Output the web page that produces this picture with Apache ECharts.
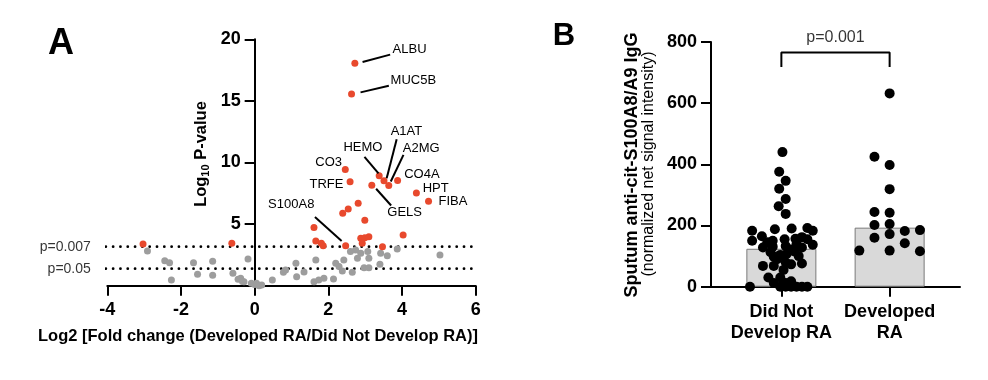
<!DOCTYPE html>
<html><head><meta charset="utf-8">
<script src="https://cdn.jsdelivr.net/npm/echarts@6/dist/echarts.min.js"></script>
<style>html,body{margin:0;padding:0;background:#fff}#c{width:988px;height:380px}</style>
</head><body><div id="c"></div>
<script>
const FONT = '"Liberation Sans", Arial, Helvetica, sans-serif';

// ---------- Panel A data (volcano) ----------
const nsPoints = [
  [-2.91, 2.82], [-2.44, 2.03], [-2.31, 1.87], [-2.26, 0.46], [-1.66, 1.87], [-1.55, 0.93],
  [-1.14, 1.98], [-1.14, 0.85], [-0.59, 1.01], [-0.45, 0.52], [-0.38, 0.6], [-0.33, 0.35],
  [-0.29, 0.33], [-0.18, 2.17], [-0.09, 0.2], [0.0, 0.1], [0.05, 0.2], [0.12, 0.0], [0.19, 0.05],
  [0.48, 0.46], [0.78, 1.09], [0.84, 1.28], [1.12, 1.82], [1.14, 0.73], [1.34, 1.12], [1.66, 2.09],
  [1.61, 0.33], [1.74, 0.46], [1.88, 0.6], [2.14, 0.55], [2.2, 1.82], [2.29, 1.55], [2.38, 1.2],
  [2.42, 2.09], [2.65, 1.09], [2.6, 2.77], [2.74, 2.9], [2.88, 2.63], [3.07, 2.77], [3.1, 2.23],
  [2.79, 2.23], [2.97, 1.46], [3.1, 1.46], [3.42, 2.63], [3.6, 2.44], [3.4, 1.74], [3.87, 2.98],
  [5.03, 2.49]
];
const sigPoints = [
  [2.72, 18.05], [2.63, 15.56], [2.46, 9.43], [2.59, 8.43], [3.38, 8.92], [3.51, 8.51],
  [3.64, 8.13], [3.88, 8.54], [3.18, 8.16], [4.39, 7.53], [4.72, 6.86], [2.47, 3.25],
  [2.81, 6.69], [2.54, 6.23], [2.39, 5.88], [2.99, 5.31], [1.61, 4.72], [1.66, 3.63],
  [1.81, 3.45], [1.86, 3.25], [2.88, 3.85], [2.99, 3.9], [3.10, 3.98], [2.92, 3.45],
  [3.47, 3.17], [4.03, 4.12], [-0.62, 3.45], [-3.03, 3.39]
];
const sigNames = ['ALBU', 'MUC5B', 'CO3', 'TRFE', 'HEMO', 'A1AT', 'A2MG', 'CO4A', 'GELS', 'HPT', 'FIBA', 'S100A8'];
const thresholds = [3.17, 1.38];
const thresholdLabels = ['p=0.007', 'p=0.05'];
const thresholdSpan = [-4.04, 5.9];

// ---------- Panel B data ----------
const groups = ['Did Not\nDevelop RA', 'Developed\nRA'];
const barMedians = [124, 193];
const g1Values = [440, 376, 346, 320, 287, 263, 238, 183, 188, 190, 192, 183, 150, 165, 150, 155, 157, 162, 155, 137,
  128, 131, 133, 122, 128, 113, 104, 108, 98, 115, 68, 68, 80, 73, 76, 30, 30, 12, 12, 18,
  0, 0, 0, 0, 0, 0, 0, 145, 140, 90, 100, 55];
const g1Jitter = [0.01, -0.02, 0.04, -0.02, 0.04, -0.025, 0.04, -0.27, -0.06, 0.095, 0.24, 0.29, -0.27, -0.18, -0.08, 0.03, 0.13, 0.19, 0.24, 0.29,
  -0.17, -0.08, 0.04, 0.09, 0.19, -0.1, -0.01, 0.05, -0.07, 0.12, -0.17, -0.07, 0.04, 0.09, 0.19, -0.12, -0.01, -0.07, 0.04, 0.09,
  -0.29, -0.01, 0.04, 0.09, 0.14, 0.19, 0.24, -0.13, 0.14, -0.04, 0.16, 0.02];
const g2Values = [632, 425, 398, 319, 244, 242, 202, 205, 160, 172, 182, 185, 118, 118, 142, 116];
const g2Jitter = [0, -0.14, 0, 0, -0.14, 0, -0.14, 0, -0.14, 0, 0.14, 0.28, -0.28, 0, 0.14, 0.28];
const pText = 'p=0.001';
const bracketY = [718, 766];

// ---------- label layout (pixel offsets from each point) ----------
const labelLayout = {
  ALBU:  { line: [7.7, -1.4, 35.3, -8.7], text: [37.7, -13.7], align: 'left' },
  MUC5B: { line: [9, -1.6, 37.3, -8.3], text: [39, -13.6], align: 'left' },
  A1AT:  { line: [2.7, -2.7, 12.7, -41.7], text: [22.5, -49.3], align: 'center' },
  HEMO:  { line: [-14.7, -19, -0.7, -2.4], text: [-16.3, -28.7], align: 'center' },
  A2MG:  { line: [2, -4, 14.7, -30.7], text: [32.5, -37.4], align: 'center' },
  CO4A:  { text: [6.6, -5.7], align: 'left' },
  HPT:   { text: [6.3, -5], align: 'left' },
  FIBA:  { text: [10, 0.4], align: 'left' },
  CO3:   { text: [-3.3, -6.7], align: 'right' },
  TRFE:  { text: [-6.6, 2.3], align: 'right' },
  GELS:  { line: [4.3, 3.6, 19.3, 20.3], text: [32.8, 27], align: 'center' },
  S100A8:{ line: [-30.7, -28.7, -4, -4.7], text: [-54.4, -41.4], align: 'center' }
};

const RED = '#e8492d', GRAY = '#9d9d9d';
const axisCommon = {
  axisLine: { show: true, onZero: false, lineStyle: { color: '#000', width: 2 } },
  axisTick: { show: true, length: 10, lineStyle: { color: '#000', width: 2 } },
  splitLine: { show: false },
  axisLabel: { color: '#000', fontFamily: FONT, fontWeight: 'bold', fontSize: 18 }
};

const labeled = sigNames.map((n, i) => [sigPoints[i][0], sigPoints[i][1], i]);

const gridA = { left: 107.3, top: 39.3, width: 368.4, height: 246.4 };
const xMinA = -4, xMaxA = 6;

const chart = echarts.init(document.getElementById('c'), null, { renderer: 'canvas' });
chart.setOption({
  animation: false,
  backgroundColor: '#fff',
  grid: [
    gridA,
    { left: 711, top: 42, width: 249, height: 244.7 }
  ],
  xAxis: [
    Object.assign({}, axisCommon, {
      gridIndex: 0, type: 'value', min: xMinA, max: xMaxA, interval: 2,
      axisLabel: Object.assign({}, axisCommon.axisLabel, { margin: 15 })
    }),
    Object.assign({}, axisCommon, {
      gridIndex: 1, type: 'value', min: -0.65, max: 1.65,
      axisTick: { show: true, length: 10, lineStyle: { color: '#000', width: 2 }, customValues: [0, 1] },
      axisLabel: Object.assign({}, axisCommon.axisLabel, {
        margin: 15, lineHeight: 21, customValues: [0, 1],
        formatter: v => groups[Math.round(v)]
      })
    })
  ],
  yAxis: [
    Object.assign({}, axisCommon, {
      gridIndex: 0, type: 'value', min: 0, max: 20, interval: 5, position: 'left',
      offset: -gridA.width * (0 - xMinA) / (xMaxA - xMinA),
      axisLabel: Object.assign({}, axisCommon.axisLabel, { margin: 14, showMinLabel: false })
    }),
    Object.assign({}, axisCommon, {
      gridIndex: 1, type: 'value', min: 0, max: 800, interval: 200,
      axisLabel: Object.assign({}, axisCommon.axisLabel, { margin: 14 })
    })
  ],
  series: [
    ...thresholds.map(t => ({
      type: 'line', xAxisIndex: 0, yAxisIndex: 0, symbol: 'none', z: 1, clip: false,
      data: [[thresholdSpan[0], t], [thresholdSpan[1], t]],
      lineStyle: { color: '#000', width: 2.8, type: [0.01, 7.3], cap: 'round' }
    })),
    {
      type: 'scatter', xAxisIndex: 0, yAxisIndex: 0, symbolSize: 0, z: 1, clip: false,
      data: thresholds.map((t, i) => ({ value: [thresholdSpan[0], t], name: thresholdLabels[i] })),
      label: { show: true, position: 'left', distance: 15, formatter: p => p.name,
        color: '#000', fontFamily: FONT, fontSize: 14 }
    },
    {
      type: 'scatter', xAxisIndex: 0, yAxisIndex: 0, symbolSize: 7, z: 3,
      itemStyle: { color: GRAY, opacity: 1 }, data: nsPoints
    },
    {
      type: 'scatter', xAxisIndex: 0, yAxisIndex: 0, symbolSize: 7, z: 4,
      itemStyle: { color: RED, opacity: 1 }, data: sigPoints
    },
    {
      type: 'custom', xAxisIndex: 0, yAxisIndex: 0, z: 5, data: labeled,
      renderItem: (params, api) => {
        const name = sigNames[api.value(2)];
        const L = labelLayout[name];
        const p = api.coord([api.value(0), api.value(1)]);
        const children = [];
        if (L.line) {
          children.push({ type: 'line',
            shape: { x1: p[0] + L.line[0], y1: p[1] + L.line[1], x2: p[0] + L.line[2], y2: p[1] + L.line[3] },
            style: { stroke: '#000', lineWidth: 2 } });
        }
        children.push({ type: 'text', x: p[0] + L.text[0], y: p[1] + L.text[1],
          style: { text: name, fill: '#000', font: '13px ' + FONT,
            align: L.align, verticalAlign: 'middle', textAlign: L.align, textVerticalAlign: 'middle' } });
        return { type: 'group', children };
      }
    },
    {
      type: 'bar', xAxisIndex: 1, yAxisIndex: 1, barWidth: 70, z: 1,
      itemStyle: { color: '#d9d9d9', borderColor: '#7a7a7a', borderWidth: 1 },
      data: barMedians.map((m, i) => [i, m])
    },
    {
      type: 'scatter', xAxisIndex: 1, yAxisIndex: 1, symbolSize: 10, z: 3,
      itemStyle: { color: '#000', opacity: 1 },
      data: g1Values.map((v, i) => [0 + g1Jitter[i], v])
    },
    {
      type: 'scatter', xAxisIndex: 1, yAxisIndex: 1, symbolSize: 10, z: 3,
      itemStyle: { color: '#000', opacity: 1 },
      data: g2Values.map((v, i) => [1 + g2Jitter[i], v])
    },
    {
      type: 'line', xAxisIndex: 1, yAxisIndex: 1, symbol: 'none', z: 3,
      lineStyle: { color: '#000', width: 2 },
      data: [[0, bracketY[0]], [0, bracketY[1]], [1, bracketY[1]], [1, bracketY[0]]]
    },
    {
      type: 'scatter', xAxisIndex: 1, yAxisIndex: 1, symbolSize: 0, z: 3, clip: false,
      data: [[0.5, bracketY[1]]],
      label: { show: true, position: 'top', distance: 7, formatter: pText,
        color: '#000', fontFamily: FONT, fontSize: 16 }
    }
  ],
  graphic: [
    { type: 'text', x: 61, y: 44, style: { text: 'A', font: 'bold 36px ' + FONT, fill: '#000',
      align: 'center', verticalAlign: 'middle', textAlign: 'center', textVerticalAlign: 'middle' } },
    { type: 'text', x: 564, y: 36, style: { text: 'B', font: 'bold 31px ' + FONT, fill: '#000',
      align: 'center', verticalAlign: 'middle', textAlign: 'center', textVerticalAlign: 'middle' } },
    { type: 'text', x: 258, y: 336, style: { text: 'Log2 [Fold change (Developed RA/Did Not Develop RA)]',
      font: 'bold 16.5px ' + FONT, fill: '#000', align: 'center', verticalAlign: 'middle',
      textAlign: 'center', textVerticalAlign: 'middle' } },
    { type: 'text', x: 201, y: 154, rotation: Math.PI / 2, style: {
      text: '{a|Log}{s|10}{a| P-value}', fill: '#000', align: 'center', verticalAlign: 'middle',
      textAlign: 'center', textVerticalAlign: 'middle',
      rich: {
        a: { fontSize: 16.5, fontWeight: 'bold', fontFamily: FONT, lineHeight: 20, fill: '#000', color: '#000' },
        s: { fontSize: 11, fontWeight: 'bold', fontFamily: FONT, lineHeight: 20, verticalAlign: 'bottom', fill: '#000', color: '#000' }
      } } },
    { type: 'text', x: 632, y: 165, rotation: Math.PI / 2, style: { text: 'Sputum anti-cit-S100A8/A9 IgG',
      font: 'bold 18px ' + FONT, fill: '#000', align: 'center', verticalAlign: 'middle',
      textAlign: 'center', textVerticalAlign: 'middle' } },
    { type: 'text', x: 649, y: 164, rotation: Math.PI / 2, style: { text: '(normalized net signal intensity)',
      font: '16px ' + FONT, fill: '#000', align: 'center', verticalAlign: 'middle',
      textAlign: 'center', textVerticalAlign: 'middle' } }
  ]
});
</script></body></html>
